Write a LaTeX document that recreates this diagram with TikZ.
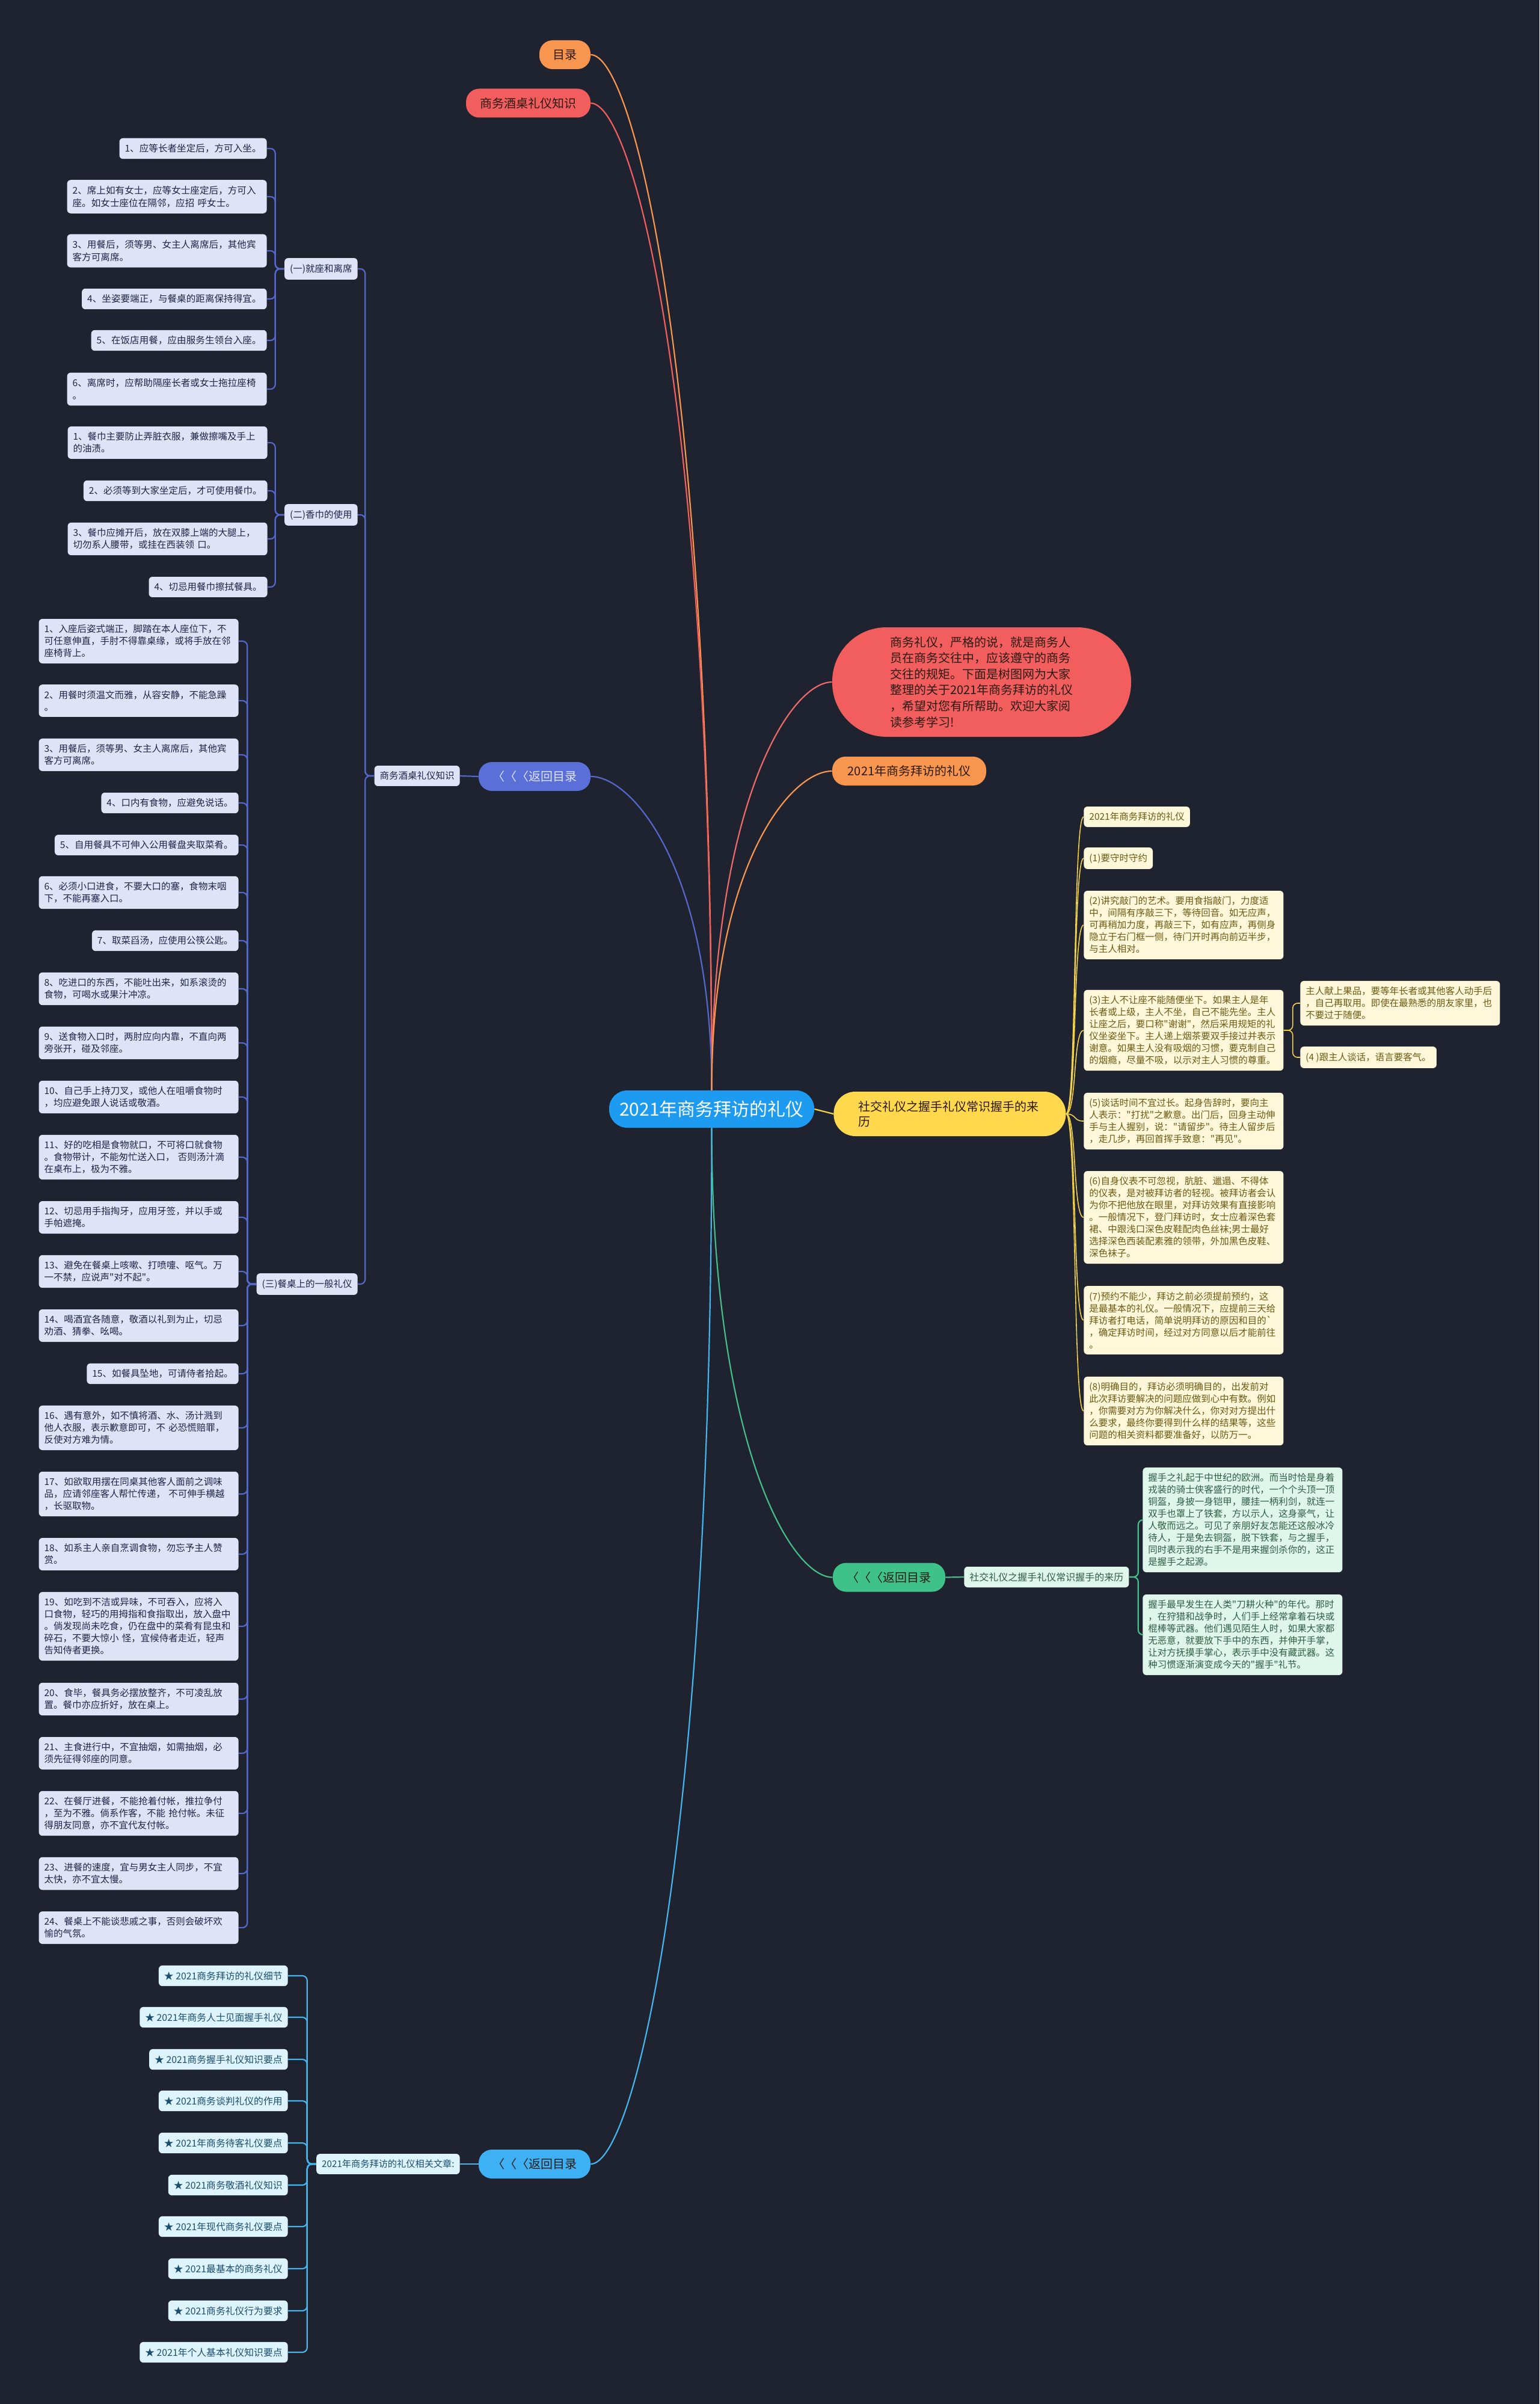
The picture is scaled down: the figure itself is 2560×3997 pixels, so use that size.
\documentclass[tikz,border=0pt]{standalone}
\usepackage{fontspec}
\newfontfamily\cjk{Noto Sans CJK SC}
\usetikzlibrary{calc}
\definecolor{bg}{HTML}{1F2330}
\definecolor{lavbg}{HTML}{DFE3F8}
\definecolor{lavtx}{HTML}{1E2547}
\definecolor{blueline}{HTML}{5468CC}
\definecolor{bluepill}{HTML}{5B6FD8}
\definecolor{cybg}{HTML}{DDF4FD}
\definecolor{cytx}{HTML}{1B4D6E}
\definecolor{cyline}{HTML}{45B5F0}
\definecolor{cypill}{HTML}{3DB1F3}
\definecolor{yelbg}{HTML}{FFF7D9}
\definecolor{yeltx}{HTML}{6B5A12}
\definecolor{yelline}{HTML}{F2D14B}
\definecolor{yelnode}{HTML}{FFD84D}
\definecolor{grnbg}{HTML}{DFF6EA}
\definecolor{grntx}{HTML}{2F5D45}
\definecolor{grnline}{HTML}{44BD87}
\definecolor{grnpill}{HTML}{3EC28A}
\definecolor{redc}{HTML}{F25E5E}
\definecolor{redline}{HTML}{EE6A6A}
\definecolor{orc}{HTML}{F8954F}
\definecolor{ctrc}{HTML}{1C9BF0}
\definecolor{darktx}{HTML}{2B1A14}
\newcommand{\mmbranch}[3]{\draw[#1] (#2) .. controls ($(#2)!0.7!(#2|-#3)$) and ($(#3)!0.35!(#2|-#3)$) .. (#3);}
\newcommand{\lbr}[3]{\draw[#1] (#2.west) -- ++(-15,0) |- (#3.east);}
\newcommand{\rbr}[3]{\draw[#1] (#2.east) -- ++(15,0) |- (#3.west);}
\tikzset{
 box/.style={font=\cjk\fontsize{7.75}{10}\selectfont, inner xsep=4.5pt, inner ysep=4.9pt, rounded corners=3pt, align=left},
 wide/.style={text width=157pt},
 lav/.style={box, fill=lavbg, text=lavtx},
 lavone/.style={lav, font=\cjk\fontsize{7.8}{10.5}\selectfont},
 cyb/.style={box, fill=cybg, text=cytx, font=\cjk\fontsize{7.9}{10}\selectfont},
 yelb/.style={box, fill=yelbg, text=yeltx},
 grnb/.style={box, fill=grnbg, text=grntx},
 pill/.style={font=\cjk\fontsize{10}{12}\selectfont, rounded corners=11pt, minimum height=24pt, inner sep=0pt, align=center},
 mline/.style={line width=1.1pt},
 bl/.style={line width=1.1pt, blueline, rounded corners=4pt},
 cl/.style={line width=1.1pt, cyline, rounded corners=4pt},
 gl/.style={line width=1.1pt, grnline, rounded corners=4pt},
 yl/.style={line width=0.8pt, yelline, rounded corners=4pt},
}
\begin{document}
\begin{tikzpicture}[x=0.5pt,y=-0.5pt]
\useasboundingbox (0,0) rectangle (2560,3997);
\fill[bg] (0,0) rectangle (2560,3997);

% ---- top pills
\node[pill, fill=orc, text=darktx, minimum width=42.5pt] (mulu) at (939.5,91) {目录};
\node[pill, fill=redc, text=darktx, minimum width=103.5pt] (jiuzhuo) at (878.5,171.5) {商务酒桌礼仪知识};

% ---- center
\node[pill, fill=ctrc, text=white, font=\cjk\fontsize{15}{18}\selectfont, rounded corners=15pt, minimum width=170.5pt, minimum height=31pt] (ctr) at (1183.5,1844) {2021年商务拜访的礼仪};

% ---- left blue branch
\node[pill, fill=bluepill, text=lavbg, minimum width=93pt] (back1) at (889,1291) {〈〈〈返回目录};
\node[lav, anchor=east] (jz) at (765,1290) {商务酒桌礼仪知识};

\node[lav, anchor=east] (g1) at (595,447) {(一)就座和离席};
\node[lavone, anchor=east] (a1) at (444,247) {1、应等长者坐定后，方可入坐。};
\node[lavone, wide, anchor=east] (a2) at (444,327) {2、席上如有女士，应等女士座定后，方可入\\座。如女士座位在隔邻，应招 呼女士。};
\node[lavone, wide, anchor=east] (a3) at (444,417) {3、用餐后，须等男、女主人离席后，其他宾\\客方可离席。};
\node[lavone, anchor=east] (a4) at (444,497) {4、坐姿要端正，与餐桌的距离保持得宜。};
\node[lavone, anchor=east] (a5) at (444,566) {5、在饭店用餐，应由服务生领台入座。};
\node[lavone, wide, anchor=east] (a6) at (444,647) {6、离席时，应帮助隔座长者或女士拖拉座椅\\。};

\node[lav, anchor=east] (g2) at (595,856) {(二)香巾的使用};
\node[lav, wide, anchor=east] (b1) at (445,736) {1、餐巾主要防止弄脏衣服，兼做擦嘴及手上\\的油渍。};
\node[lav, anchor=east] (b2) at (445,816) {2、必须等到大家坐定后，才可使用餐巾。};
\node[lav, wide, anchor=east] (b3) at (445,896) {3、餐巾应摊开后，放在双膝上端的大腿上，\\切勿系人腰带，或挂在西装领 口。};
\node[lav, anchor=east] (b4) at (445,976) {4、切忌用餐巾擦拭餐具。};

\node[lav, anchor=east] (g3) at (595,2135) {(三)餐桌上的一般礼仪};
\node[lav, wide, anchor=east] (c1) at (397,1066) {1、入座后姿式端正，脚踏在本人座位下，不\\可任意伸直，手肘不得靠桌缘，或将手放在邻\\座椅背上。};
\node[lav, wide, anchor=east] (c2) at (397,1165) {2、用餐时须温文而雅，从容安静，不能急躁\\。};
\node[lav, wide, anchor=east] (c3) at (397,1255) {3、用餐后，须等男、女主人离席后，其他宾\\客方可离席。};
\node[lav, anchor=east] (c4) at (397,1335) {4、口内有食物，应避免说话。};
\node[lav, anchor=east] (c5) at (397,1405) {5、自用餐具不可伸入公用餐盘夹取菜肴。};
\node[lav, wide, anchor=east] (c6) at (397,1484) {6、必须小口进食，不要大口的塞，食物末咽\\下，不能再塞入口。};
\node[lav, anchor=east] (c7) at (397,1564) {7、取菜舀汤，应使用公筷公匙。};
\node[lav, wide, anchor=east] (c8) at (397,1644) {8、吃进口的东西，不能吐出来，如系滚烫的\\食物，可喝水或果汁冲凉。};
\node[lav, wide, anchor=east] (c9) at (397,1734) {9、送食物入口时，两肘应向内靠，不直向两\\旁张开，碰及邻座。};
\node[lav, wide, anchor=east] (c10) at (397,1824) {10、自己手上持刀叉，或他人在咀嚼食物时\\，均应避免跟人说话或敬酒。};
\node[lav, wide, anchor=east] (c11) at (397,1924) {11、好的吃相是食物就口，不可将口就食物\\。食物带计，不能匆忙送入口， 否则汤汁滴\\在桌布上，极为不雅。};
\node[lav, wide, anchor=east] (c12) at (397,2024) {12、切忌用手指掏牙，应用牙签，并以手或\\手帕遮掩。};
\node[lav, wide, anchor=east] (c13) at (397,2114) {13、避免在餐桌上咳嗽、打喷嚏、呕气。万\\一不禁，应说声"对不起"。};
\node[lav, wide, anchor=east] (c14) at (397,2204) {14、喝酒宜各随意，敬酒以礼到为止，切忌\\劝酒、猜拳、吆喝。};
\node[lav, anchor=east] (c15) at (397,2284) {15、如餐具坠地，可请侍者拾起。};
\node[lav, wide, anchor=east] (c16) at (397,2374) {16、遇有意外，如不慎将酒、水、汤计溅到\\他人衣服，表示歉意即可，不 必恐慌赔罪，\\反使对方难为情。};
\node[lav, wide, anchor=east] (c17) at (397,2484) {17、如欲取用摆在同桌其他客人面前之调味\\品，应请邻座客人帮忙传递， 不可伸手横越\\，长驱取物。};
\node[lav, wide, anchor=east] (c18) at (397,2584) {18、如系主人亲自烹调食物，勿忘予主人赞\\赏。};
\node[lav, wide, anchor=east] (c19) at (397,2704) {19、如吃到不洁或异味，不可吞入，应将入\\口食物，轻巧的用拇指和食指取出，放入盘中\\。倘发现尚未吃食，仍在盘中的菜肴有昆虫和\\碎石，不要大惊小 怪，宜候侍者走近，轻声\\告知侍者更换。};
\node[lav, wide, anchor=east] (c20) at (397,2825) {20、食毕，餐具务必摆放整齐，不可凌乱放\\置。餐巾亦应折好，放在桌上。};
\node[lav, wide, anchor=east] (c21) at (397,2915) {21、主食进行中，不宜抽烟，如需抽烟，必\\须先征得邻座的同意。};
\node[lav, wide, anchor=east] (c22) at (397,3015) {22、在餐厅进餐，不能抢着付帐，推拉争付\\，至为不雅。倘系作客，不能 抢付帐。未征\\得朋友同意，亦不宜代友付帐。};
\node[lav, wide, anchor=east] (c23) at (397,3115) {23、进餐的速度，宜与男女主人同步，不宜\\太快，亦不宜太慢。};
\node[lav, wide, anchor=east] (c24) at (397,3205) {24、餐桌上不能谈悲戚之事，否则会破坏欢\\愉的气氛。};

% ---- bottom related
\node[pill, fill=cypill, text=darktx, minimum width=93pt] (back3) at (889,3598) {〈〈〈返回目录};
\node[cyb, anchor=east, font=\cjk\fontsize{7.6}{10}\selectfont] (rel) at (765,3598) {2021年商务拜访的礼仪相关文章:};
\node[cyb, anchor=east] (r1) at (479,3285) {★ 2021商务拜访的礼仪细节};
\node[cyb, anchor=east] (r2) at (479,3354) {★ 2021年商务人士见面握手礼仪};
\node[cyb, anchor=east] (r3) at (479,3424) {★ 2021商务握手礼仪知识要点};
\node[cyb, anchor=east] (r4) at (479,3493) {★ 2021商务谈判礼仪的作用};
\node[cyb, anchor=east] (r5) at (479,3563) {★ 2021年商务待客礼仪要点};
\node[cyb, anchor=east] (r6) at (479,3633) {★ 2021商务敬酒礼仪知识};
\node[cyb, anchor=east] (r7) at (479,3702) {★ 2021年现代商务礼仪要点};
\node[cyb, anchor=east] (r8) at (479,3772) {★ 2021最基本的商务礼仪};
\node[cyb, anchor=east] (r9) at (479,3842) {★ 2021商务礼仪行为要求};
\node[cyb, anchor=east] (r10) at (479,3911) {★ 2021年个人基本礼仪知识要点};

% ---- right side
\node[fill=redc, text=darktx, font=\cjk\fontsize{10}{13.3}\selectfont, rounded corners=45pt, minimum width=248.5pt, minimum height=91pt, text width=152pt, align=left, inner sep=0pt] (intro) at (1632.5,1134) {商务礼仪，严格的说，就是商务人\\员在商务交往中，应该遵守的商务\\交往的规矩。下面是树图网为大家\\整理的关于2021年商务拜访的礼仪\\，希望对您有所帮助。欢迎大家阅\\读参考学习!};
\node[pill, fill=orc, text=darktx, minimum width=128pt] (or2) at (1512,1282) {2021年商务拜访的礼仪};

\node[fill=yelnode, text=darktx, font=\cjk\fontsize{10}{12.5}\selectfont, rounded corners=18pt, minimum width=193pt, minimum height=37pt, text width=152pt, align=left, inner sep=0pt, anchor=west] (yn) at (1386,1852) {社交礼仪之握手礼仪常识握手的来\\历};
\node[yelb, anchor=west] (ya) at (1802,1358) {2021年商务拜访的礼仪};
\node[yelb, anchor=west] (yb) at (1802,1427) {(1)要守时守约};
\node[yelb, wide, anchor=west] (yc) at (1802,1538) {(2)讲究敲门的艺术。要用食指敲门，力度适\\中，间隔有序敲三下，等待回音。如无应声，\\可再稍加力度，再敲三下，如有应声，再侧身\\隐立于右门框一侧，待门开时再向前迈半步，\\与主人相对。};
\node[yelb, wide, anchor=west] (yd) at (1802,1713) {(3)主人不让座不能随便坐下。如果主人是年\\长者或上级，主人不坐，自己不能先坐。主人\\让座之后，要口称"谢谢"，然后采用规矩的礼\\仪坐姿坐下。主人递上烟茶要双手接过并表示\\谢意。如果主人没有吸烟的习惯，要克制自己\\的烟瘾，尽量不吸，以示对主人习惯的尊重。};
\node[yelb, wide, anchor=west] (yd1) at (2162,1668) {主人献上果品，要等年长者或其他客人动手后\\，自己再取用。即使在最熟悉的朋友家里，也\\不要过于随便。};
\node[yelb, anchor=west] (yd2) at (2162,1758) {(4 )跟主人谈话，语言要客气。};
\node[yelb, wide, anchor=west] (ye) at (1802,1864) {(5)谈话时间不宜过长。起身告辞时，要向主\\人表示："打扰"之歉意。出门后，回身主动伸\\手与主人握别，说："请留步"。待主人留步后\\，走几步，再回首挥手致意："再见"。};
\node[yelb, wide, anchor=west] (yf) at (1802,2024) {(6)自身仪表不可忽视，肮脏、邋遢、不得体\\的仪表，是对被拜访者的轻视。被拜访者会认\\为你不把他放在眼里，对拜访效果有直接影响\\。一般情况下，登门拜访时，女士应着深色套\\裙、中跟浅口深色皮鞋配肉色丝袜;男士最好\\选择深色西装配素雅的领带，外加黑色皮鞋、\\深色袜子。};
\node[yelb, wide, anchor=west] (yg) at (1802,2195) {(7)预约不能少，拜访之前必须提前预约，这\\是最基本的礼仪。一般情况下，应提前三天给\\拜访者打电话，简单说明拜访的原因和目的`\\，确定拜访时间，经过对方同意以后才能前往\\。};
\node[yelb, wide, anchor=west] (yh) at (1802,2346) {(8)明确目的，拜访必须明确目的，出发前对\\此次拜访要解决的问题应做到心中有数。例如\\，你需要对方为你解决什么，你对对方提出什\\么要求，最终你要得到什么样的结果等，这些\\问题的相关资料都要准备好，以防万一。};

\node[pill, fill=grnpill, text=darktx, minimum width=93.5pt] (back2) at (1478.5,2622.5) {〈〈〈返回目录};
\node[grnb, anchor=west, font=\cjk\fontsize{8}{10}\selectfont] (gs) at (1603,2622) {社交礼仪之握手礼仪常识握手的来历};
\node[grnb, wide, anchor=west] (gc1) at (1900,2527) {握手之礼起于中世纪的欧洲。而当时恰是身着\\戎装的骑士侠客盛行的时代，一个个头顶一顶\\铜盔，身披一身铠甲，腰挂一柄利剑，就连一\\双手也罩上了铁套，方以示人，这身豪气，让\\人敬而远之。可见了亲朋好友怎能还这般冰冷\\待人，于是免去铜盔，脱下铁套，与之握手，\\同时表示我的右手不是用来握剑杀你的，这正\\是握手之起源。};
\node[grnb, wide, anchor=west] (gc2) at (1900,2718) {握手最早发生在人类"刀耕火种"的年代。那时\\，在狩猎和战争时，人们手上经常拿着石块或\\棍棒等武器。他们遇见陌生人时，如果大家都\\无恶意，就要放下手中的东西，并伸开手掌，\\让对方抚摸手掌心，表示手中没有藏武器。这\\种习惯逐渐演变成今天的"握手"礼节。};

% ---- main branches
\mmbranch{mline, orc}{ctr.north}{mulu.east}
\mmbranch{mline, redc}{ctr.north}{jiuzhuo.east}
\mmbranch{mline, blueline}{ctr.north}{back1.east}
\mmbranch{mline, redline}{ctr.north}{intro.west}
\mmbranch{mline, orc}{ctr.north}{or2.west}
\draw[mline, yelline] (ctr.east) -- (yn.west);
\mmbranch{mline, grnline}{ctr.south}{back2.west}
\mmbranch{mline, cyline}{ctr.south}{back3.east}

% ---- sub connectors
\draw[bl] (back1.west) -- (jz.east);
\foreach \g in {g1,g2,g3} {\lbr{bl}{jz}{\g}}
\foreach \i in {a1,a2,a3,a4,a5,a6} {\lbr{bl}{g1}{\i}}
\foreach \i in {b1,b2,b3,b4} {\lbr{bl}{g2}{\i}}
\foreach \i in {c1,c2,c3,c4,c5,c6,c7,c8,c9,c10,c11,c12,c13,c14,c15,c16,c17,c18,c19,c20,c21,c22,c23,c24} {\lbr{bl}{g3}{\i}}

\draw[cl] (back3.west) -- (rel.east);
\foreach \i in {r1,r2,r3,r4,r5,r6,r7,r8,r9,r10} {\lbr{cl}{rel}{\i}}

\draw[gl] (back2.east) -- (gs.west);
\foreach \i in {gc1,gc2} {\rbr{gl}{gs}{\i}}

\foreach \i in {ya,yb,yc,yd,ye,yf,yg,yh} {\draw[yl] (yn.east) .. controls +(18,0) and +(-18,0) .. (\i.west);}
\foreach \i in {yd1,yd2} {\rbr{yl}{yd}{\i}}
\end{tikzpicture}
\end{document}
